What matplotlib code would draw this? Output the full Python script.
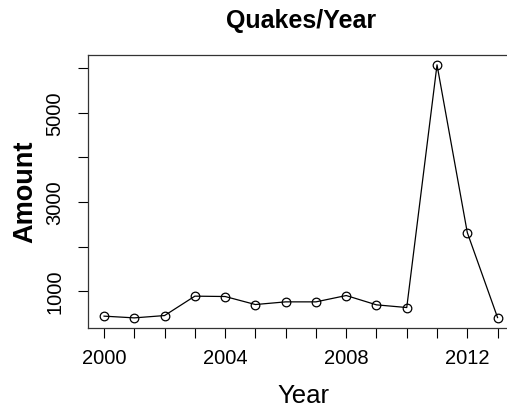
import matplotlib
matplotlib.use("Agg")
import matplotlib.pyplot as plt

plt.rcParams['font.family'] = ['Liberation Sans', 'DejaVu Sans']

# Yearly earthquake counts
years = [2000, 2001, 2002, 2003, 2004, 2005, 2006, 2007, 2008, 2009, 2010, 2011, 2012, 2013]
amounts = [440, 401, 453, 888, 880, 700, 760, 760, 902, 693, 633, 6074, 2314, 408]
x_ticks = [2000, 2004, 2008, 2012]
y_ticks = [1000, 2000, 3000, 4000, 5000, 6000]
y_tick_labels = ['1000', '', '3000', '', '5000', '']

W, H = 507, 410
fig = plt.figure(figsize=(W / 100, H / 100), dpi=100)

# axes box extends slightly past the right edge of the figure
left, right, top, bottom = 88.3, 513.3, 55.7, 329.0
ax = fig.add_axes([left / W, 1 - bottom / H, (right - left) / W, (bottom - top) / H])

ax.plot(years, amounts, color='black', linewidth=0.9,
        marker='o', markersize=6.2, markerfacecolor='none',
        markeredgecolor='black', markeredgewidth=0.9)

# R-style 4% padding on both axes
xr = max(years) - min(years)
yr = max(amounts) - min(amounts)
ax.set_xlim(min(years) - 0.04 * xr, max(years) + 0.04 * xr)
ax.set_ylim(min(amounts) - 0.04 * yr, max(amounts) + 0.04 * yr)

ax.set_xticks(x_ticks)
ax.set_xticks(years, minor=True)
ax.set_yticks(y_ticks)
ax.set_yticklabels(y_tick_labels)
ax.tick_params(axis='x', which='both', length=7.2, width=0.8, direction='out',
               labelsize=14.5, pad=7)
ax.tick_params(axis='x', which='minor', labelbottom=False)
ax.tick_params(axis='y', length=7.2, width=0.8, direction='out',
               labelsize=14.5, pad=10, labelrotation=90)
for lbl in ax.get_yticklabels():
    lbl.set_verticalalignment('center')

for s in ax.spines.values():
    s.set_linewidth(0.9)
    s.set_color('#333333')

fig.text((left + right) / 2 / W, 1 - 28 / H, 'Quakes/Year', ha='center',
         va='baseline', fontsize=18, fontweight='bold')
fig.text(303 / W, 1 - 403 / H, 'Year', ha='center', va='baseline', fontsize=18.5)
fig.text(25 / W, 1 - 192 / H, 'Amount', ha='center', va='center',
         rotation=90, fontsize=19.5, fontweight='bold')

fig.savefig('out.png', dpi=100)
